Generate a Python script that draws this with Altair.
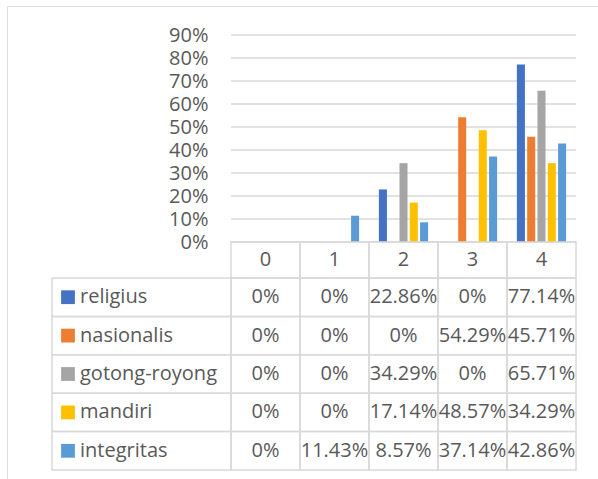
import altair as alt
import pandas as pd

categories = ["0", "1", "2", "3", "4"]
series = ["religius", "nasionalis", "gotong-royong", "mandiri", "integritas"]
religius = [0.0, 0.0, 0.2286, 0.0, 0.7714]
nasionalis = [0.0, 0.0, 0.0, 0.5429, 0.4571]
gotong_royong = [0.0, 0.0, 0.3429, 0.0, 0.6571]
mandiri = [0.0, 0.0, 0.1714, 0.4857, 0.3429]
integritas = [0.0, 0.1143, 0.0857, 0.3714, 0.4286]
y_ticks = [0.0, 0.1, 0.2, 0.3, 0.4, 0.5, 0.6, 0.7, 0.8, 0.9]
colors = ["#4472C4", "#ED7D31", "#A5A5A5", "#FFC000", "#5B9BD5"]

FONT = "Open Sans"
FS = 20
TXT = "#595959"
LINE = "#d9d9d9"

rows = []
for s, vals in zip(series, [religius, nasionalis, gotong_royong, mandiri, integritas]):
    for c, v in zip(categories, vals):
        rows.append({"series": s, "cat": c, "value": v,
                     "label": "0%" if v == 0 else f"{v * 100:.2f}%"})
df = pd.DataFrame(rows)
grid_df = pd.DataFrame([{"cat": c, "tick": t} for c in categories for t in y_ticks])
hdr_df = pd.DataFrame({"cat": categories, "row": ["hdr"] * len(categories)})
leg_df = pd.DataFrame({"series": series})

x_scale = alt.Scale(domain=categories, range=[224, 569], paddingInner=0, paddingOuter=0)
xoff_scale = alt.Scale(domain=series, paddingInner=0.22, paddingOuter=0.96)
y_scale = alt.Scale(domain=[0, 0.9], range=[236, 29], nice=False, zero=True)
row_scale = alt.Scale(domain=series, range=[272, 464], paddingInner=0, paddingOuter=0)
hdr_scale = alt.Scale(domain=["hdr"], range=[236, 272], paddingInner=0, paddingOuter=0)
color_scale = alt.Scale(domain=series, range=colors)

xenc = alt.X("cat:N", scale=x_scale, axis=None)

grid = alt.Chart(grid_df).mark_rect(fill="#ffffff", fillOpacity=0, stroke=LINE, strokeWidth=1.3).encode(
    x=xenc,
    y=alt.Y("tick:Q", scale=y_scale, axis=None),
    y2=alt.Y2("tick:Q"),
)

bars = alt.Chart(df).mark_bar().encode(
    x=xenc,
    xOffset=alt.XOffset("series:N", scale=xoff_scale),
    y=alt.Y("value:Q", scale=y_scale,
            axis=alt.Axis(values=y_ticks, format=".0%", orient="left", offset=-224,
                          domain=False, ticks=False, tickSize=0, grid=False,
                          labelPadding=23, labelFontSize=FS, labelFont=FONT,
                          labelColor=TXT, title=None)),
    color=alt.Color("series:N", scale=color_scale, legend=None),
)

hdr_cells = alt.Chart(hdr_df).mark_rect(fill="#ffffff", fillOpacity=0, stroke=LINE, strokeWidth=1.5).encode(
    x=xenc, y=alt.Y("row:N", scale=hdr_scale, axis=None))
hdr_text = alt.Chart(hdr_df).mark_text(font=FONT, fontSize=FS, color=TXT).encode(
    x=xenc, y=alt.Y("row:N", scale=hdr_scale, axis=None), text="cat:N")

cells = alt.Chart(df).mark_rect(fill="#ffffff", fillOpacity=0, stroke=LINE, strokeWidth=1.5).encode(
    x=xenc, y=alt.Y("series:N", scale=row_scale, axis=None))
cell_text = alt.Chart(df).mark_text(font=FONT, fontSize=FS, color=TXT).encode(
    x=xenc, y=alt.Y("series:N", scale=row_scale, axis=None), text="label:N")

leg_cells = alt.Chart(leg_df).mark_rect(fill="#ffffff", fillOpacity=0, stroke=LINE, strokeWidth=1.5).encode(
    x=alt.value(45), x2=alt.value(224), y=alt.Y("series:N", scale=row_scale, axis=None))
leg_sw = alt.Chart(leg_df).mark_square(size=190, opacity=1).encode(
    x=alt.value(61), y=alt.Y("series:N", scale=row_scale, axis=None),
    color=alt.Color("series:N", scale=color_scale, legend=None))
leg_text = alt.Chart(leg_df).mark_text(font=FONT, fontSize=FS, color=TXT, align="left").encode(
    x=alt.value(73), y=alt.Y("series:N", scale=row_scale, axis=None), text="series:N")

chart = alt.layer(
    grid, bars, hdr_cells, hdr_text, cells, cell_text, leg_cells, leg_sw, leg_text
).resolve_scale(y="independent").properties(
    width=591, height=473,
    autosize=alt.AutoSizeParams(type="none"),
    padding={"left": 7, "top": 6, "right": 0, "bottom": 0},
).configure_view(stroke=LINE, strokeWidth=1.5).configure(background="#ffffff")

chart.save("out.html", embed_options={"renderer": "svg", "actions": False})
